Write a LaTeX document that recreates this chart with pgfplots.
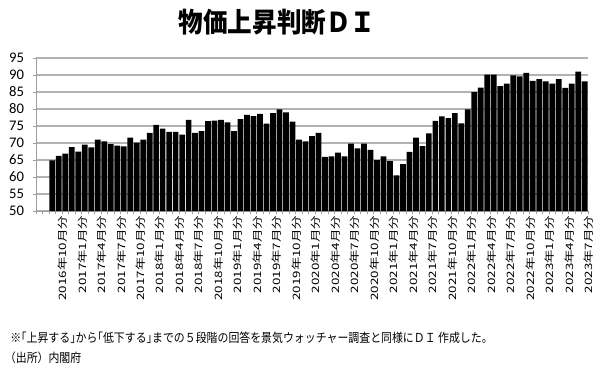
\documentclass[border=0pt]{standalone}
\usepackage{fontspec}
\usepackage{pgfplots}
\usepackage{pgfplotstable}
\pgfplotsset{compat=1.18}
\setmainfont{Carlito}
\newfontfamily\cjk[FakeStretch=0.88]{Noto Sans CJK JP}
\newfontfamily\cjkx[FakeStretch=1.32]{Noto Sans CJK JP}
\newfontfamily\cjkt[FakeStretch=0.9]{Noto Sans CJK JP}
\pgfplotstableread{
x y
0 64.9
1 66.2
2 66.9
3 68.8
4 67.5
5 69.5
6 68.7
7 71.0
8 70.5
9 69.7
10 69.2
11 69.0
12 71.6
13 70.1
14 71.0
15 73.0
16 75.3
17 74.2
18 73.3
19 73.3
20 72.5
21 76.8
22 73.0
23 73.5
24 76.4
25 76.6
26 76.8
27 76.1
28 73.5
29 77.0
30 78.3
31 77.9
32 78.6
33 75.7
34 78.8
35 79.9
36 79.0
37 76.3
38 71.0
39 70.5
40 72.0
41 73.0
42 65.9
43 66.1
44 67.2
45 66.1
46 69.8
47 68.4
48 69.8
49 68.0
50 65.0
51 66.1
52 64.7
53 60.5
54 63.8
55 67.4
56 71.6
57 69.1
58 72.8
59 76.5
60 77.8
61 77.3
62 78.8
63 75.8
64 79.9
65 85.0
66 86.3
67 90.1
68 90.1
69 86.7
70 87.5
71 89.9
72 89.6
73 90.6
74 88.3
75 88.8
76 88.1
77 87.5
78 88.8
79 86.2
80 87.5
81 91.0
82 88.1
}\datatable
\begin{document}
\begin{tikzpicture}
\path[use as bounding box] (0,0) rectangle (450pt,285pt);
\node[font=\cjkt\bfseries\fontsize{20.5}{22}\selectfont] at (207.75pt,268.1pt) {物価上昇判断ＤＩ};
\begin{axis}[
  at={(27pt,126.75pt)}, anchor=south west,
  scale only axis, width=414pt, height=114.75pt,
  xmin=-2.5, xmax=82.5, ymin=50, ymax=95,
  ytick={50,55,...,95},
  xtick={1,4,...,82},
  xticklabels={2016年10月分,2017年1月分,2017年4月分,2017年7月分,2017年10月分,2018年1月分,2018年4月分,2018年7月分,2018年10月分,2019年1月分,2019年4月分,2019年7月分,2019年10月分,2020年1月分,2020年4月分,2020年7月分,2020年10月分,2021年1月分,2021年4月分,2021年7月分,2021年10月分,2022年1月分,2022年4月分,2022年7月分,2022年10月分,2023年1月分,2023年4月分,2023年7月分},
  minor xtick={-2.5,-1.5,...,82.5},
  axis lines=left,
  axis line style={-, draw=gray!75, line width=0.6pt},
  ymajorgrids,
  grid style={draw=gray!60, line width=0.8pt},
  tick align=outside,
  major tick length=2.5pt, minor tick length=2.5pt,
  major x tick style={draw=none},
  minor x tick style={draw=gray!75, line width=0.5pt},
  ytick style={draw=gray!75, line width=0.5pt},
  /pgf/number format/assume math mode=true,
  yticklabel style={font=\fontsize{11}{12}\selectfont, xshift=-3pt},
  xticklabel style={rotate=90, anchor=east, font=\cjkx\fontsize{7.6}{8}\selectfont, inner sep=1pt, yshift=-3pt},
]
\addplot[ybar, bar width=0.88, fill=black, draw=none] table[x=x,y=y] {\datatable};
\end{axis}
\node[anchor=west, font=\cjk\fontsize{9.3}{10}\selectfont, inner sep=0pt] at (7.5pt,31.5pt) {※｢上昇する｣から｢低下する｣までの５段階の回答を景気ウォッチャー調査と同様にＤＩ 作成した。};
\node[anchor=west, font=\cjk\fontsize{9.3}{10}\selectfont, inner sep=0pt] at (3.5pt,16.5pt) {（出所）内閣府};
\end{tikzpicture}
\end{document}
